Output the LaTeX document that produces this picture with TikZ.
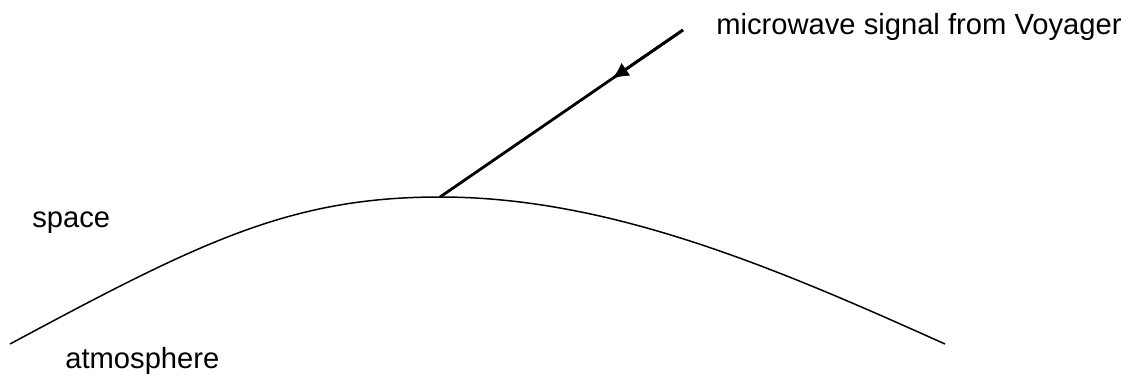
\documentclass[tikz,border=0pt]{standalone}
\usepackage{fontspec}
\setmainfont{Liberation Sans}
\usetikzlibrary{arrows.meta,calc}
\begin{document}
\begin{tikzpicture}[x=0.02cm,y=-0.02cm,
  label/.style={anchor=base west,inner sep=0pt,font=\fontsize{16.6}{19}\selectfont}]
  \useasboundingbox (0,0) rectangle (1136,379);
  % Erdrand
  \coordinate (L) at (10,344);
  \coordinate (P) at (440,197);
  \coordinate (R) at (945,344);
  \draw[line width=0.85pt] (L) .. controls (200,242) and (290,197) .. (P)
    .. controls (610,197) and (775,267.5) .. (R);
  % Signal
  \coordinate (S) at (683,30);
  \draw[line width=1.6pt] (S) -- (P);
  \draw[line width=1.6pt,-{Latex[length=9.5pt,width=9pt]}] (S) -- ($(S)!0.292!(P)$);
  % Beschriftung
  \node[label] (sig) at (716,34) {microwave signal from Voyager};
  \node[label] (space) at (32,227) {space};
  \node[label] (atm) at (65,368) {atmosphere};
\end{tikzpicture}
\end{document}
